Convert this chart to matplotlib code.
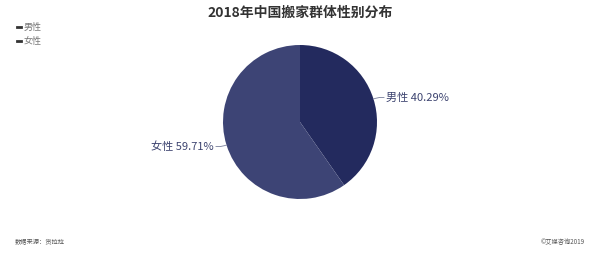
import numpy as np
import matplotlib
matplotlib.use('Agg')
import matplotlib.pyplot as plt

plt.rcParams['font.family'] = ['Noto Sans CJK SC', 'DejaVu Sans']

title = '2018年中国搬家群体性别分布'
labels = ['男性', '女性']
values = [40.29, 59.71]
colors = ['#232a5e', '#3d4475']
source = '数据来源：货拉拉'
copyright_txt = '©艾媒咨询2019'

fig = plt.figure(figsize=(6, 2.54), dpi=100)
fig.patch.set_facecolor('white')

# pie axes: center (300,122) px, radius 77 px
cx, cy, r = 300, 122, 77
ax = fig.add_axes([(cx - r) / 600, (254 - cy - r) / 254, 2 * r / 600, 2 * r / 254])
wedges, _ = ax.pie(values, colors=colors, startangle=90, counterclock=False,
                   wedgeprops=dict(linewidth=0))
ax.set_xlim(-1, 1)
ax.set_ylim(-1, 1)
ax.set_aspect('auto')
ax.axis('off')

for w, lab, v in zip(wedges, labels, values):
    ang = np.deg2rad((w.theta1 + w.theta2) / 2)
    x0, y0 = np.cos(ang), np.sin(ang)
    side = 1 if x0 > 0 else -1
    x1, y1 = 1.08 * x0, 1.06 * y0
    x2 = x1 + side * 0.06
    ax.plot([x0, x1, x2], [y0, y1, y1], color='#8a8fa8', lw=0.7, clip_on=False)
    ax.text(x2 + side * 0.03, y1, f'{lab} {v:.2f}%', ha='left' if side > 0 else 'right',
            va='center', fontsize=8, color='#3d4470')

fig.text(0.5, 1 - 13 / 254, title, ha='center', va='center', fontsize=10,
         fontweight='bold', color='#333333')

# legend
for i, lab in enumerate(labels):
    y = 1 - (27 + 14 * i) / 254
    fig.add_artist(plt.Line2D([17 / 600, 21 / 600], [y, y], color='#333333', lw=2,
                              transform=fig.transFigure))
    fig.text(24 / 600, y, lab, ha='left', va='center', fontsize=6.5, color='#777777')

fig.text(15 / 600, 1 - 242 / 254, source, ha='left', va='center', fontsize=4.5, color='#555555')
fig.text(585 / 600, 1 - 242 / 254, copyright_txt, ha='right', va='center', fontsize=4.5,
         color='#555555')

fig.savefig('out.png', dpi=100, facecolor='white')
